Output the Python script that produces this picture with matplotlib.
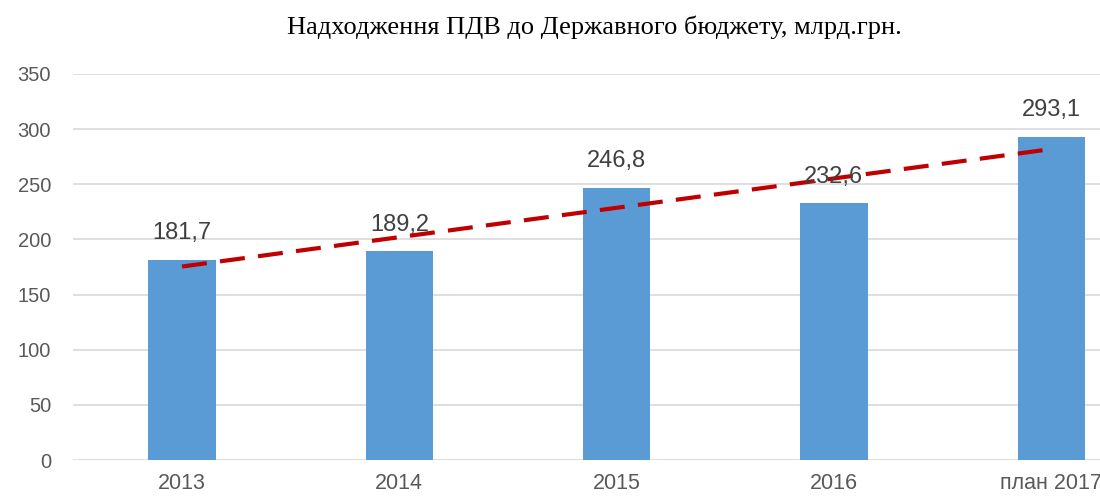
import numpy as np
import matplotlib
matplotlib.use("Agg")
import matplotlib.pyplot as plt

categories = ["2013", "2014", "2015", "2016", "план 2017"]
values = [181.7, 189.2, 246.8, 232.6, 293.1]
value_labels = ["181,7", "189,2", "246,8", "232,6", "293,1"]
yticks = [0, 50, 100, 150, 200, 250, 300, 350]
title = "Надходження ПДВ до Державного бюджету, млрд.грн."

narrow = ["Liberation Sans Narrow", "Liberation Sans", "DejaVu Sans"]
regular = ["Liberation Sans", "DejaVu Sans"]

fig = plt.figure(figsize=(11, 5.01), dpi=100)
ax = fig.add_axes([0.0667, 0.0818, 0.9877, 0.7705])

x = np.arange(len(categories))
ax.bar(x, values, width=0.31, color="#5B9BD5", zorder=3)

# linear trend line
coef = np.polyfit(x, values, 1)
ax.plot(x, np.polyval(coef, x), color="#C00000", lw=3, dashes=(6, 3.2), zorder=4)

for xi, v, lab in zip(x, values, value_labels):
    ax.text(xi, v + 14, lab, ha="center", va="bottom", fontsize=17,
            color="#404040", family=narrow, zorder=5)

ax.set_xlim(-0.5, 4.5)
ax.set_ylim(0, 350)
ax.set_yticks(yticks)
ax.set_yticklabels([str(t) for t in yticks], family=regular, fontsize=14.5, color="#595959")
ax.set_xticks(x)
ax.set_xticklabels(categories, family=narrow, fontsize=15.5, color="#595959")
ax.tick_params(axis="both", length=0)
ax.tick_params(axis="x", pad=9)
ax.tick_params(axis="y", pad=16)
ax.grid(axis="y", color="#D9D9D9", lw=1.2, zorder=0)
for s in ax.spines.values():
    s.set_visible(False)

fig.text(0.540, 0.946, title, ha="center", va="center", fontsize=19,
         family=["Liberation Serif", "DejaVu Serif"], color="#000000")

fig.savefig("out.png", dpi=100)
